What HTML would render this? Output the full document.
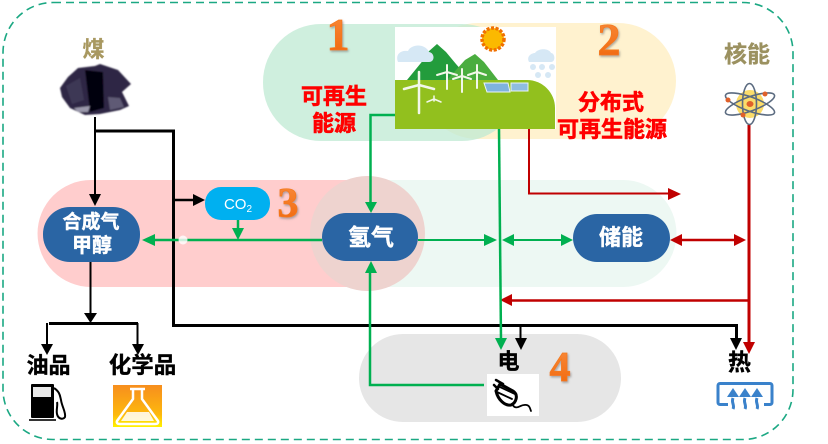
<!DOCTYPE html>
<html><head><meta charset="utf-8"><style>
html,body{margin:0;padding:0;background:#fff}
svg{display:block}
text{font-family:"Liberation Sans","Noto Sans CJK SC",sans-serif;font-weight:700;text-anchor:middle}
.n{font-family:"Liberation Serif",serif;font-size:46px;fill:url(#og);stroke:#f47a1f;stroke-width:.8;filter:url(#sh)}
.r{font-size:22px;fill:#f00;stroke:#f00;stroke-width:.6}
.w{fill:#fff;stroke:#fff;stroke-width:.4}
.k{fill:#000;stroke:#000;stroke-width:.35}
</style></head><body>
<svg width="828" height="444" viewBox="0 0 828 444" xmlns="http://www.w3.org/2000/svg">
<defs>
<linearGradient id="og" x1="0" y1="0" x2="0" y2="1"><stop offset="0" stop-color="#f98c3c"/><stop offset="1" stop-color="#f0640a"/></linearGradient>
<linearGradient id="fl" x1="0" y1="0" x2="0" y2="1"><stop offset="0" stop-color="#f78e1e"/><stop offset=".7" stop-color="#fdb80d"/><stop offset="1" stop-color="#fff200"/></linearGradient>
<filter id="sh" x="-30%" y="-30%" width="160%" height="160%"><feDropShadow dx="1" dy="1.5" stdDeviation="1" flood-color="#777" flood-opacity=".6"/></filter>
<filter id="bl" x="-10%" y="-10%" width="120%" height="120%"><feGaussianBlur stdDeviation=".9"/></filter>
</defs>
<rect width="828" height="444" fill="#fff"/>
<rect x="3" y="2.5" width="790" height="437" rx="50" ry="50" fill="none" stroke="#1ba883" stroke-width="1.600" stroke-dasharray="8 5"/>

<!-- backdrop pills -->
<rect x="420" y="23" width="256" height="116" rx="58" fill="#fff2cf"/>
<rect x="263" y="24" width="257" height="117" rx="58" fill="#bfe9d3" fill-opacity=".75"/>
<path d="M368 180H623a53.500 53.500 0 0 1 0 107H368Z" fill="#edf8f3"/>
<path d="M91 180H368V287H91a53.500 53.500 0 0 1 0-107Z" fill="#ffcdcd"/>
<circle cx="367.500" cy="233.500" r="57.500" fill="#eed3cf"/>
<rect x="359" y="334" width="262" height="88" rx="44" fill="#e6e6e6"/>

<!-- landscape -->
<rect x="395" y="27" width="161" height="102" fill="#fff"/>
<polygon points="407,80 425,58 428,52 437,44 446,52 456,64 470,80" fill="#239c3c"/>
<polygon points="447,80 465,60 475,54 484,62 498,80" fill="#4aad3f"/>
<path d="M398 62c-3-8 3-12 10-11 3-7 17-8 21 1 6 1 6 10 0 10Z" fill="#d6e8f5"/>
<path d="M529 62c-3-6 3-9 6-9 3-5 14-5 16 0 4 0 5 9 0 9Z" fill="#d6e8f5"/>
<g fill="#d6e8f5"><circle cx="533" cy="67" r="3"/><circle cx="542" cy="67" r="3"/><circle cx="552" cy="67" r="3"/><circle cx="538" cy="75" r="3"/><circle cx="548" cy="75" r="3"/></g>
<circle cx="493" cy="39" r="11" fill="#fbb900" stroke="#f07000" stroke-width="3.500" stroke-dasharray="3 1.500"/>
<circle cx="493" cy="39" r="9" fill="#fbb900"/>
<path d="M395 80H527a28 28 0 0 1 28 28V129H395Z" fill="#92c01e"/>
<g stroke="#f2f7ea" fill="none" stroke-linecap="round">
<path d="M419 72V113M419 85L404 89M419 85L434 89" stroke-width="2.500"/>
<path d="M447 65V89M447 72L437 75M447 72L457 75" stroke-width="2"/>
<path d="M462 69V92M462 76L453 79M462 76L471 79" stroke-width="2"/>
<path d="M477 65V88M477 72L468 75M477 72L486 75" stroke-width="2"/>
<path d="M434 96V101M434 99L427 102M434 99L441 102" stroke-width="1.500"/>
</g>
<polygon points="484,83 508,83 510,92 487,92" fill="#7fb3dd" stroke="#e8f3fa" stroke-width="1"/>
<rect x="511" y="83" width="17" height="8" fill="#8fbde0" stroke="#e8f3fa" stroke-width="1"/>

<!-- black lines -->
<g fill="none" stroke="#000" stroke-width="2.500">
<path d="M95 117V196" stroke-width="2"/>
<path d="M95 131H173.500V325.500H736.500V340" stroke-width="3"/>
<path d="M173 200H196"/>
<path d="M90.500 262V315" stroke-width="2"/>
<path d="M49 323.500H138" stroke-width="3"/>
<path d="M47 323V346" stroke-width="2"/>
<path d="M137.500 323V346" stroke-width="2"/>
<path d="M520.500 325V340" stroke-width="2"/>
</g>
<g fill="#000">
<polygon points="89,194 101,194 95,206"/>
<polygon points="193,194 193,206 205,200"/>
<polygon points="84,313 97,313 90.500,323"/>
<polygon points="41,344 53,344 47,355"/>
<polygon points="132,344 144,344 138,355"/>
<polygon points="515,338 527,338 521,350"/>
<polygon points="730,338 742,338 736,350"/>
</g>

<!-- red lines -->
<g fill="none" stroke="#c00000">
<path d="M529 129V193.500H670" stroke-width="2"/>
<path d="M749 125V344" stroke-width="3"/>
<path d="M680 240H738" stroke-width="2.500"/>
<path d="M749 300.500H510" stroke-width="2.500"/>
</g>
<g fill="#c00000">
<polygon points="668,188 668,200 681,194"/>
<polygon points="743,342 755,342 749,354"/>
<polygon points="682,234 682,246 670,240"/>
<polygon points="734,234 734,246 746,240"/>
<polygon points="512,294 512,306 500,300"/>
</g>

<!-- green lines -->
<g fill="none" stroke="#00b050">
<path d="M395 115H370.500V204" stroke-width="2.500"/>
<path d="M499 129L501 340" stroke-width="2.500"/>
<path d="M484 385H370V271" stroke-width="2.500"/>
<path d="M322 240H152" stroke-width="2.500"/>
<path d="M238 220V230" stroke-width="2.500"/>
<path d="M418 240H486" stroke-width="2"/>
<path d="M512 240H562" stroke-width="2"/>
</g>
<g fill="#00b050">
<polygon points="365,202 377,202 371,213"/>
<polygon points="365,273 377,273 371,261"/>
<polygon points="495,338 507,338 501,350"/>
<polygon points="155,234 155,246 142,240"/>
<polygon points="232,228 244,228 238,240"/>
<polygon points="484,234 484,246 497,240"/>
<polygon points="514,234 514,246 502,240"/>
<polygon points="561,234 561,246 573,240"/>
</g>
<circle cx="183" cy="240" r="4.500" fill="#fff" fill-opacity=".8"/>

<!-- nodes -->
<rect x="43" y="207" width="97" height="55" rx="27" fill="#2a65a4"/>
<rect x="322" y="213" width="96" height="48" rx="24" fill="#2a65a4"/>
<rect x="573" y="214" width="97" height="48" rx="24" fill="#2a65a4"/>
<rect x="205" y="187" width="65" height="33" rx="16" fill="#00b0f0"/>
<text class="w" x="91" y="228" font-size="19">合成气</text>
<text class="w" x="92" y="252" font-size="20">甲醇</text>
<text class="w" x="371" y="245" font-size="23">氢气</text>
<text class="w" x="621" y="245" font-size="22">储能</text>
<text x="238" y="209" font-size="15" fill="#fff" style="font-weight:400">CO<tspan font-size="10" dy="3">2</tspan></text>

<!-- labels -->
<text class="r" x="334" y="104">可再生</text>
<text class="r" x="334" y="131">能源</text>
<text class="r" x="611" y="110">分布式</text>
<text class="r" x="612" y="137">可再生能源</text>
<text x="93.500" y="57" font-size="22" fill="#a89860" stroke="#a89860" stroke-width=".3">煤</text>
<text x="747" y="62" font-size="23" fill="#9b9160" stroke="#9b9160" stroke-width=".3">核能</text>
<text class="k" x="48.500" y="373" font-size="22">油品</text>
<text class="k" x="142.500" y="373" font-size="22.500">化学品</text>
<text class="k" x="508.500" y="369" font-size="22">电</text>
<text class="k" x="739.500" y="370" font-size="23">热</text>

<text class="n" x="338" y="50">1</text>
<text class="n" x="609" y="55">2</text>
<text class="n" x="288" y="217" style="font-size:42px">3</text>
<text class="n" x="560" y="381" style="font-size:42px">4</text>

<!-- coal -->
<g filter="url(#bl)">
<polygon points="60,88 68,77 78,68 95,66 100,64 118,70 131,84 122,92 129,106 120,110 100,114 85,115 70,108 62,97" fill="#2d2844"/>
<polygon points="85,70 103,72 104,108 90,112" fill="#06050c"/>
<polygon points="66,86 80,78 84,100 72,104" fill="#3c3755"/>
<polygon points="108,97 120,98 124,107 110,110" fill="#5e5a74"/>
<polygon points="74,108 90,106 88,112 78,112" fill="#9a97aa"/>
</g>

<!-- atom -->
<g fill="none" stroke="#5b6b80" stroke-width="1.600">
<circle cx="750" cy="104" r="14" fill="#fbdc6a" stroke="none"/>
<ellipse cx="749.500" cy="104" rx="7" ry="20.500"/>
<ellipse cx="750" cy="104" rx="26" ry="7" transform="rotate(20 750 104)"/>
<ellipse cx="750" cy="104" rx="26" ry="7" transform="rotate(-20 750 104)"/>
</g>
<g fill="#e0602a"><ellipse cx="750" cy="104" rx="3.500" ry="3"/><circle cx="728" cy="100" r="2.500"/><circle cx="765" cy="94" r="2.500"/><circle cx="743" cy="115" r="2.500"/></g>

<!-- plug -->
<rect x="487" y="374" width="52" height="42" fill="#fff"/>
<g fill="none" stroke="#000" stroke-linecap="round">
<path d="M503 384L496 380M498 389L494 385" stroke-width="2.500"/>
<path d="M500 384L513 391C519 395 516 403 511 405C505 406 498 400 496 391Z" stroke-width="3"/>
<path d="M497 392L512 399M500 387L515 394" stroke-width="1.800"/>
<path d="M512 404C516 411 520 405 524 405C530 404 530 409 531 411" stroke-width="1.800"/>
</g>

<!-- pump -->
<rect x="31" y="384" width="23" height="34" rx="1" fill="#000"/>
<rect x="33" y="387" width="18" height="10" fill="#e8e8e8"/>
<rect x="29" y="419" width="27" height="2" fill="#333"/>
<path d="M54 388C60 392 60 396 61 400C62 407 66 412 65 417C63 420 58 419 57 414C56 410 58 405 57 402" fill="none" stroke="#000" stroke-width="2"/>

<!-- flask -->
<rect x="113" y="385" width="49" height="42" fill="url(#fl)"/>
<path d="M133 389V399L117 421Q116 424 120 424H155Q159 424 158 421L142 399V389M130 389H145" fill="none" stroke="#fff" stroke-width="2.500"/>
<path d="M127 412H149L154 421H121Z" fill="#fff" fill-opacity=".85"/>

<!-- heat -->
<rect x="718" y="383.500" width="54" height="21" rx="2" fill="#fff" stroke="#3a82cb" stroke-width="3"/>
<rect x="728" y="403" width="36" height="3" fill="#fff"/>
<g fill="none" stroke="#3a82cb" stroke-width="3">
<path d="M733 398C731 403 735 405 733 409M745 398C743 403 747 405 745 409M757 398C755 403 759 405 757 409"/>
</g>
<g fill="#3a82cb"><polygon points="733,388 727,397 739,397"/><polygon points="745,388 739,397 751,397"/><polygon points="757,388 751,397 763,397"/></g>
</svg>
</body></html>
